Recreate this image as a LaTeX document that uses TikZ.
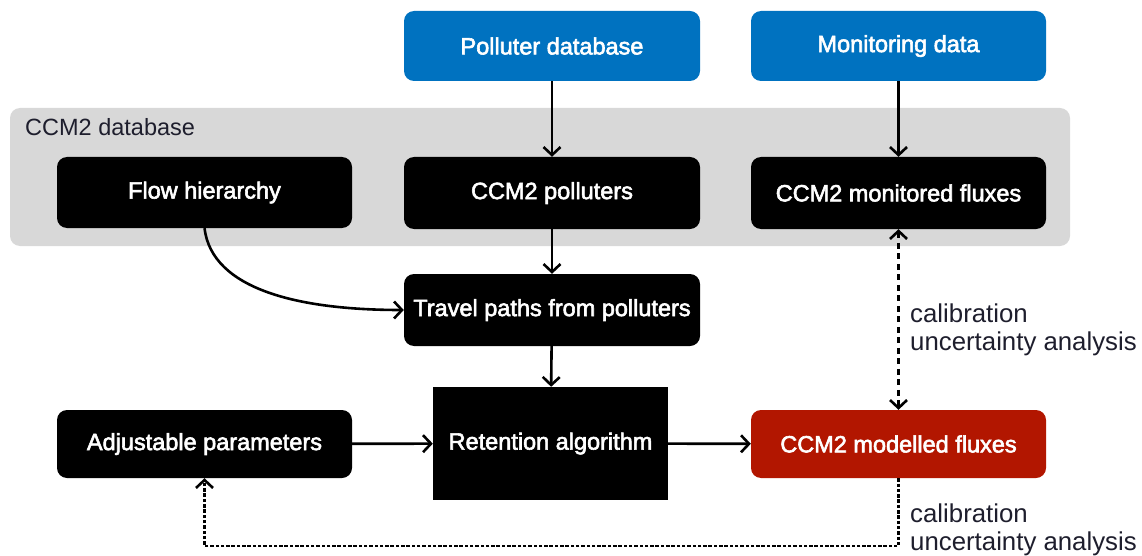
\documentclass[tikz,border=0pt]{standalone}
\usepackage{fontspec}
\setmainfont{Liberation Sans}
\newfontfamily\boxfont[FakeBold=2.5]{Liberation Sans}
\usetikzlibrary{arrows.meta}
\definecolor{dbblue}{RGB}{0,114,192}
\definecolor{modred}{RGB}{178,22,0}
\definecolor{dbgrey}{RGB}{216,216,216}
\definecolor{labtext}{RGB}{30,30,45}
\tikzset{
  boxbase/.style={text=white, font=\boxfont\fontsize{23.5}{26}\selectfont, inner sep=0pt, minimum width=295pt},
  bluebox/.style={boxbase, fill=dbblue, rounded corners=10pt, minimum height=70pt},
  blackbox/.style={boxbase, fill=black, rounded corners=10pt, minimum height=71pt},
  redbox/.style={boxbase, fill=modred, rounded corners=10pt, minimum height=68pt},
  conn/.style={line width=2.6pt, -{Straight Barb[length=8pt,width=17pt,line width=2.6pt]}},
  dashconn/.style={line width=2.8pt, dash pattern=on 6pt off 4.5pt, {Straight Barb[length=8pt,width=17pt,line width=2.6pt]}-{Straight Barb[length=8pt,width=17pt,line width=2.6pt]}},
  dotconn/.style={line width=2.8pt, dash pattern=on 3.5pt off 1.8pt, -{Straight Barb[length=8pt,width=17pt,line width=2.6pt]}},
  labelnode/.style={text=labtext, font=\fontsize{25.8}{28}\selectfont, align=left, inner sep=0pt, anchor=west}
}
\begin{document}
\begin{tikzpicture}[x=1pt,y=-1pt]
\useasboundingbox (0,0) rectangle (1142,556);
% grey database area
\node[fill=dbgrey, rounded corners=10pt, minimum width=1060pt, minimum height=138pt, inner sep=0pt] (ccmdb) at (540,177) {};
\node[text=labtext, font=\fontsize{23.5}{26}\selectfont, anchor=west, inner sep=0pt] (ccmlabel) at (25,127) {CCM2 database};
% top blue boxes
\node[bluebox, minimum width=296pt] (polldb) at (552,46) {Polluter database};
\node[bluebox] (mondb) at (898.5,46) {Monitoring data};
% database boxes
\node[blackbox] (flow) at (204.5,192.5) {Flow hierarchy};
\node[blackbox, minimum width=296pt, minimum height=72pt] (cpoll) at (552,193) {CCM2 polluters};
\node[blackbox, minimum height=72pt] (cmon) at (898.5,193) {CCM2 monitored fluxes};
% middle
\node[blackbox, minimum width=296pt, minimum height=72pt] (travel) at (552,310) {Travel paths from polluters};
\node[boxbase, fill=black, minimum width=235pt, minimum height=113pt] (ret) at (550.5,443.5) {Retention algorithm};
\node[blackbox, minimum height=68pt] (adj) at (204.5,444) {Adjustable parameters};
\node[redbox] (mod) at (898.5,444) {CCM2 modelled fluxes};
% labels
\node[labelnode] (lab1) at (910,330) {calibration\\uncertainty analysis};
\node[labelnode] (lab2) at (910,530) {calibration\\uncertainty analysis};
% connectors
\draw[conn] (polldb) -- (cpoll);
\draw[conn] (mondb) -- (cmon);
\draw[conn] (cpoll) -- (travel);
\draw[conn] (travel) -- (ret);
\draw[conn] (adj) -- (ret);
\draw[conn] (ret) -- (mod);
\draw[conn] (flow.south) .. controls (212,290) and (300,310) .. (travel.west);
\draw[dashconn] (cmon) -- (mod);
\coordinate (loopR) at (898.5,546);
\coordinate (loopL) at (204.5,546);
\draw[dotconn] (mod.south) -- (loopR) -- (loopL) -- (adj.south);
\end{tikzpicture}
\end{document}
